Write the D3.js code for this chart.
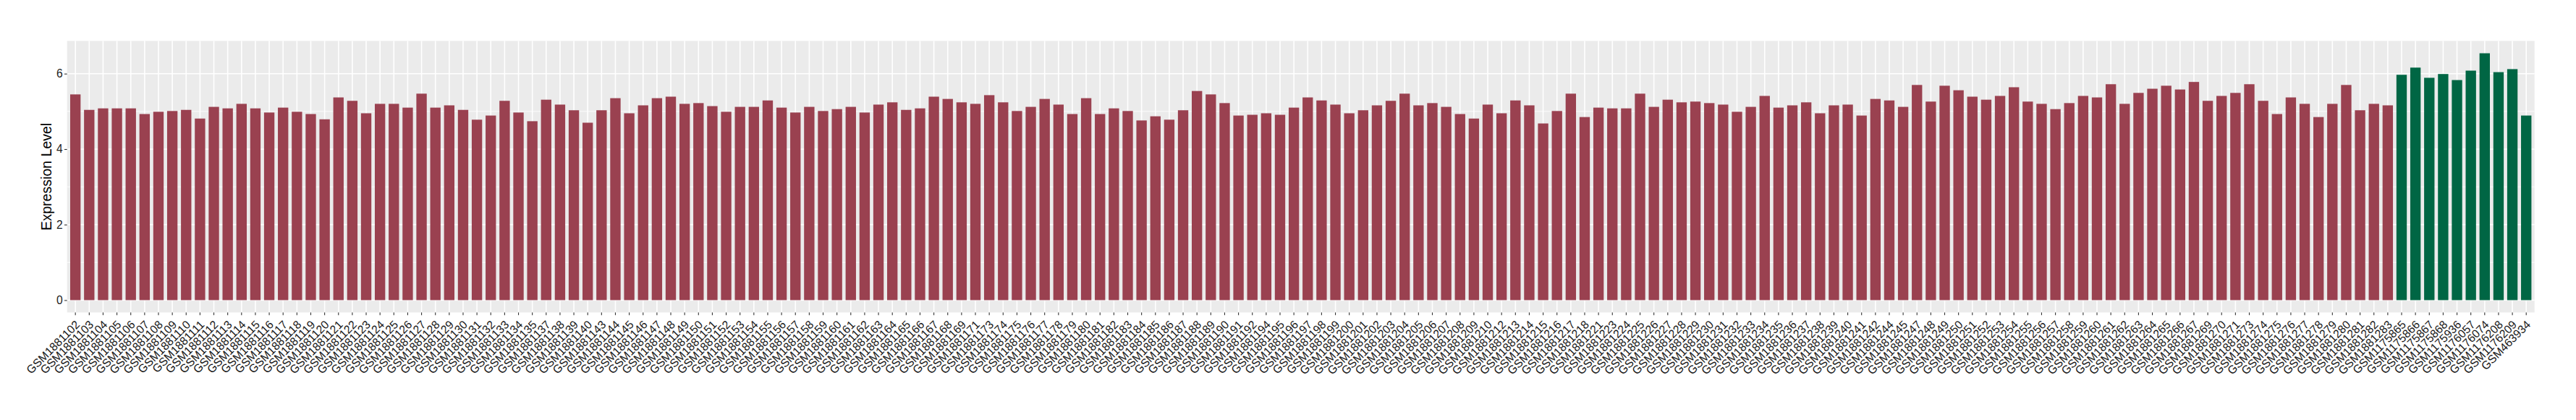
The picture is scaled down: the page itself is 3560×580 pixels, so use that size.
<!DOCTYPE html>
<html>
<head>
<meta charset="utf-8">
<script src="https://cdn.jsdelivr.net/npm/d3@7"></script>
<style>
  body { margin: 0; background: #fff; }
  text { font-family: "Liberation Sans", Arial, sans-serif; }
</style>
</head>
<body>
<svg width="3560" height="580"></svg>
<script>
// samples of the first group (red)
const redSamples = [
  "GSM1881102","GSM1881103","GSM1881104","GSM1881105","GSM1881106","GSM1881107","GSM1881108","GSM1881109","GSM1881110","GSM1881111",
  "GSM1881112","GSM1881113","GSM1881114","GSM1881115","GSM1881116","GSM1881117","GSM1881118","GSM1881119","GSM1881120","GSM1881121",
  "GSM1881122","GSM1881123","GSM1881124","GSM1881125","GSM1881126","GSM1881127","GSM1881128","GSM1881129","GSM1881130","GSM1881131",
  "GSM1881132","GSM1881133","GSM1881134","GSM1881135","GSM1881137","GSM1881138","GSM1881139","GSM1881140","GSM1881143","GSM1881144",
  "GSM1881145","GSM1881146","GSM1881147","GSM1881148","GSM1881149","GSM1881150","GSM1881151","GSM1881152","GSM1881153","GSM1881154",
  "GSM1881155","GSM1881156","GSM1881157","GSM1881158","GSM1881159","GSM1881160","GSM1881161","GSM1881162","GSM1881163","GSM1881164",
  "GSM1881165","GSM1881166","GSM1881167","GSM1881168","GSM1881169","GSM1881171","GSM1881173","GSM1881174","GSM1881175","GSM1881176",
  "GSM1881177","GSM1881178","GSM1881179","GSM1881180","GSM1881181","GSM1881182","GSM1881183","GSM1881184","GSM1881185","GSM1881186",
  "GSM1881187","GSM1881188","GSM1881189","GSM1881190","GSM1881191","GSM1881192","GSM1881194","GSM1881195","GSM1881196","GSM1881197",
  "GSM1881198","GSM1881199","GSM1881200","GSM1881201","GSM1881202","GSM1881203","GSM1881204","GSM1881205","GSM1881206","GSM1881207",
  "GSM1881208","GSM1881209","GSM1881210","GSM1881212","GSM1881213","GSM1881214","GSM1881215","GSM1881216","GSM1881217","GSM1881218",
  "GSM1881221","GSM1881223","GSM1881224","GSM1881225","GSM1881226","GSM1881227","GSM1881228","GSM1881229","GSM1881230","GSM1881231",
  "GSM1881232","GSM1881233","GSM1881234","GSM1881235","GSM1881236","GSM1881237","GSM1881238","GSM1881239","GSM1881240","GSM1881241",
  "GSM1881242","GSM1881244","GSM1881245","GSM1881247","GSM1881248","GSM1881249","GSM1881250","GSM1881251","GSM1881252","GSM1881253",
  "GSM1881254","GSM1881255","GSM1881256","GSM1881257","GSM1881258","GSM1881259","GSM1881260","GSM1881261","GSM1881262","GSM1881263",
  "GSM1881264","GSM1881265","GSM1881266","GSM1881267","GSM1881269","GSM1881270","GSM1881271","GSM1881273","GSM1881274","GSM1881275",
  "GSM1881276","GSM1881277","GSM1881278","GSM1881279","GSM1881280","GSM1881281","GSM1881282","GSM1881283"
];
const redValues = [
  5.45,5.04,5.08,5.08,5.08,4.93,4.99,5.01,5.04,4.81,
  5.12,5.08,5.20,5.08,4.97,5.10,4.99,4.93,4.79,5.37,
  5.28,4.95,5.20,5.20,5.10,5.47,5.10,5.16,5.04,4.78,
  4.89,5.28,4.97,4.74,5.31,5.18,
  5.03,4.70,5.03,5.35,4.95,5.16,5.35,5.39,5.20,5.22,
  5.14,4.99,5.12,5.12,5.29,5.10,4.97,5.12,5.01,5.06,
  5.12,4.97,5.18,5.24,5.04,5.08,5.39,5.33,5.24,5.20,
  5.43,5.24,5.01,5.12,5.33,5.18,
  4.93,5.35,4.93,5.08,5.01,4.76,4.87,4.78,5.03,5.54,
  5.45,5.22,4.89,4.91,4.95,4.91,5.10,5.37,5.29,5.18,
  4.95,5.03,5.16,5.28,5.47,5.16,5.22,5.12,4.93,4.81,
  5.18,4.95,5.29,5.16,4.68,5.01,
  5.47,4.85,5.10,5.08,5.08,5.47,5.12,5.31,5.24,5.26,
  5.22,5.18,4.99,5.12,5.41,5.10,5.16,5.24,4.95,5.16,
  5.18,4.89,5.33,5.29,5.12,5.70,5.26,5.68,5.56,5.39,
  5.31,5.41,5.64,5.26,5.20,5.06,
  5.22,5.41,5.37,5.72,5.20,5.49,5.60,5.68,5.58,5.78,
  5.28,5.41,5.49,5.72,5.28,4.93,5.37,5.20,4.85,5.20,
  5.70,5.03,5.20,5.16
];
// samples of the second group (green)
const greenSamples = ["GSM1175865","GSM1175866","GSM1175867","GSM1175868","GSM1175936","GSM1176057","GSM1176074","GSM1176208","GSM1176209","GSM463934"];
const greenValues = [5.97,6.16,5.89,5.99,5.83,6.08,6.54,6.04,6.12,4.89];
const yTicks = [0, 2, 4, 6];
const yMinor = [1, 3, 5];
const groupColors = {red: "#9A4150", green: "#006644"};

const svg = d3.select("svg");
const pLeft = 92.7, pRight = 3502.7, pTop = 56.5, pBottom = 431.5;

const data = redSamples.map((s, i) => ({sample: s, value: redValues[i], group: "red"}))
  .concat(greenSamples.map((s, i) => ({sample: s, value: greenValues[i], group: "green"})));

const x = d3.scaleBand().domain(data.map(d => d.sample)).range([pLeft, pRight])
  .paddingInner(0.25).paddingOuter(0.225);
const ymax = d3.max(data, d => d.value);
const y = d3.scaleLinear().domain([-0.05 * ymax, ymax * 1.05]).range([pBottom, pTop]);

const g = svg.append("g");
// panel
g.append("rect").attr("x", pLeft).attr("y", pTop).attr("width", pRight - pLeft).attr("height", pBottom - pTop).attr("fill", "#EBEBEB");
g.selectAll(".minor").data(yMinor).enter().append("line")
  .attr("x1", pLeft).attr("x2", pRight).attr("y1", d => y(d)).attr("y2", d => y(d))
  .attr("stroke", "#fff").attr("stroke-width", 0.8);
g.selectAll(".major").data(yTicks).enter().append("line")
  .attr("x1", pLeft).attr("x2", pRight).attr("y1", d => y(d)).attr("y2", d => y(d))
  .attr("stroke", "#fff").attr("stroke-width", 1.6);
g.selectAll(".vgrid").data(data).enter().append("line")
  .attr("x1", d => x(d.sample) + x.bandwidth() / 2).attr("x2", d => x(d.sample) + x.bandwidth() / 2)
  .attr("y1", pTop).attr("y2", pBottom)
  .attr("stroke", "#fff").attr("stroke-width", 1.6);

// bars
g.selectAll(".bar").data(data).enter().append("rect")
  .attr("x", d => x(d.sample)).attr("width", x.bandwidth())
  .attr("y", d => y(d.value)).attr("height", d => y(0) - y(d.value))
  .attr("fill", d => groupColors[d.group]);

// y axis
const yAxis = g.append("g").attr("transform", "translate(" + pLeft + ",0)")
  .call(d3.axisLeft(y).tickValues(yTicks).tickSize(3.7).tickPadding(2.2).tickFormat(d3.format("d")));
yAxis.select(".domain").remove();
yAxis.selectAll("line").attr("stroke", "#333").attr("stroke-width", 1.1);
yAxis.selectAll("text").attr("fill", "#222").style("font-size", "15.6px");

// x axis
const xAxis = g.append("g").attr("transform", "translate(0," + pBottom + ")")
  .call(d3.axisBottom(x).tickSize(3.7).tickPadding(0));
xAxis.select(".domain").remove();
xAxis.selectAll("line").attr("stroke", "#333").attr("stroke-width", 1.1);
xAxis.selectAll("text")
  .attr("fill", "#1A1A1A").style("font-size", "15.8px")
  .attr("text-anchor", "end").attr("dy", null).attr("y", 0)
  .attr("transform", "translate(7,17.7) rotate(-45)");

// y title
svg.append("text")
  .attr("transform", "translate(70.5," + ((pTop + pBottom) / 2) + ") rotate(-90)")
  .attr("text-anchor", "middle")
  .style("font-size", "19.5px").attr("fill", "#000")
  .text("Expression Level");
</script>
</body>
</html>
